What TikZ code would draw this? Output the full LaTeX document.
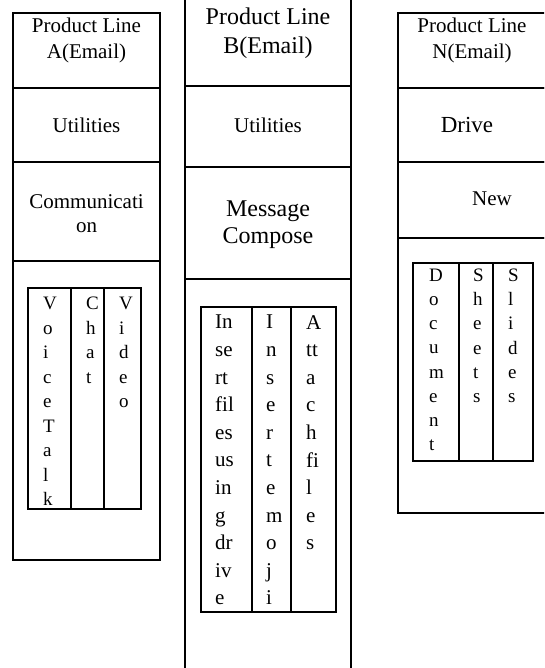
\documentclass[tikz,border=0pt]{standalone}
\usepackage{fontspec}
\setmainfont{Liberation Serif}
\usetikzlibrary{calc}

\tikzset{
  box/.style={draw, line width=1.6pt},
  head/.style={anchor=north, align=center, inner sep=0pt},
  word/.style={anchor=base, inner sep=0pt},
  letters/.style={anchor=north west, align=left, inner sep=0pt}
}

\begin{document}
\begin{tikzpicture}[x=1pt, y=-1pt]
			\useasboundingbox (0,0) rectangle (544,668);
			\clip (0,0) rectangle (544,668);
			
			% product line A
			\coordinate (A0) at (13, 13);
			\coordinate (A1) at (160, 88);
			\coordinate (A2) at (13, 162);
			\coordinate (A3) at (160, 261);
			\coordinate (A4) at (13, 560);
			
			\draw[box] (A0) rectangle (A1);
			\draw[box] (A0 |- A1) rectangle (A2 -| A1);
			\draw[box] (A2) rectangle (A3);
			\draw[box] (A3 -| A0) rectangle (A4 -| A1);
			\draw[box] (28, 288) rectangle (141, 509);
			\draw[box] (71, 288) -- (71, 509);
			\draw[box] (104, 288) -- (104, 509);
			
			\node[head, font=\fontsize{21}{26}\selectfont] (headA) at (86.5, 18) {Product Line\\A(Email)};
			\node[word, font=\fontsize{21}{25}\selectfont] (utilA) at (86.5, 133) {Utilities};
			\node[head, font=\fontsize{21}{24}\selectfont] (commA) at (86.5, 194) {Communicati\\on};
			\node[letters, font=\fontsize{19}{24.5}\selectfont] (voice) at (43, 297) {V\\o\\i\\c\\e\\T\\a\\l\\k};
			\node[letters, font=\fontsize{19}{24.5}\selectfont] (chat) at (86, 297) {C\\h\\a\\t};
			\node[letters, font=\fontsize{19}{24.5}\selectfont] (video) at (119, 297) {V\\i\\d\\e\\o};
			
			% product line B
			\coordinate (B0) at (185, -2);
			\coordinate (B1) at (351, 86);
			\coordinate (B2) at (185, 167);
			\coordinate (B3) at (351, 279);
			\coordinate (B4) at (185, 672);
			
			\draw[box] (B0) rectangle (B1);
			\draw[box] (B0 |- B1) rectangle (B2 -| B1);
			\draw[box] (B2) rectangle (B3);
			\draw[box] (B3 -| B0) rectangle (B4 -| B1);
			\draw[box] (201, 307) rectangle (336, 612);
			\draw[box] (252, 307) -- (252, 612);
			\draw[box] (291, 307) -- (291, 612);
			
			\node[head, font=\fontsize{24}{29}\selectfont] (headB) at (268, 8) {Product Line\\B(Email)};
			\node[word, font=\fontsize{21}{25}\selectfont] (utilB) at (268, 133) {Utilities};
			\node[head, font=\fontsize{24}{27}\selectfont] (compose) at (268, 201) {Message\\Compose};
			\node[letters, font=\fontsize{21}{27.6}\selectfont] (insfile) at (215, 315) {In\\se\\rt\\fil\\es\\us\\in\\g\\dr\\iv\\e};
			\node[letters, font=\fontsize{21}{27.6}\selectfont] (insemoji) at (266, 315) {I\\n\\s\\e\\r\\t\\e\\m\\o\\j\\i};
			\node[letters, font=\fontsize{21}{27.6}\selectfont] (attach) at (306, 315) {A\\tt\\a\\c\\h\\fi\\l\\e\\s};
			
			% product line N
			\coordinate (N0) at (398, 13);
			\coordinate (N1) at (547, 88);
			\coordinate (N2) at (398, 162);
			\coordinate (N3) at (547, 238);
			\coordinate (N4) at (398, 513);
			
			\draw[box] (N0) rectangle (N1);
			\draw[box] (N0 |- N1) rectangle (N2 -| N1);
			\draw[box] (N2) rectangle (N3);
			\draw[box] (N3 -| N0) rectangle (N4 -| N1);
			\draw[box] (413, 263) rectangle (533, 461);
			\draw[box] (459, 263) -- (459, 461);
			\draw[box] (493, 263) -- (493, 461);
			
			\node[head, font=\fontsize{21}{26}\selectfont] (headN) at (472, 18) {Product Line\\N(Email)};
			\node[word, font=\fontsize{23}{26}\selectfont] (drive) at (467, 133) {Drive};
			\node[word, font=\fontsize{21}{25}\selectfont] (new) at (492, 205) {New};
			\node[letters, font=\fontsize{19}{24.1}\selectfont] (document) at (429, 269) {D\\o\\c\\u\\m\\e\\n\\t};
			\node[letters, font=\fontsize{19}{24.1}\selectfont] (sheets) at (473, 269) {S\\h\\e\\e\\t\\s};
			\node[letters, font=\fontsize{19}{24.1}\selectfont] (slides) at (508, 269) {S\\l\\i\\d\\e\\s};
			\end{tikzpicture}
\end{document}
